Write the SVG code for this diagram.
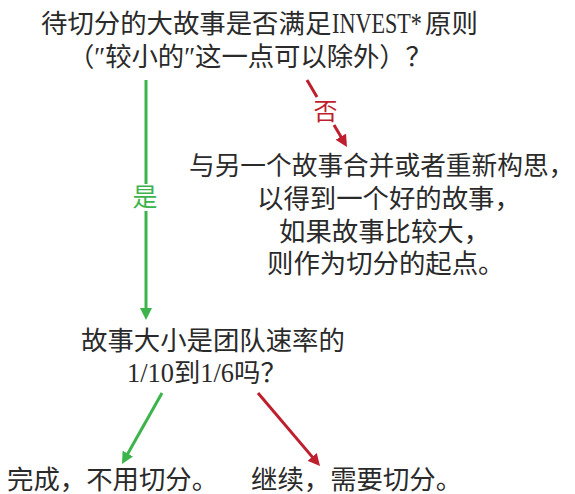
<svg xmlns="http://www.w3.org/2000/svg" width="575" height="494" viewBox="0 0 575 494">
<style>
.t{font-family:"Liberation Serif","Noto Sans CJK SC",serif;font-size:26.4px;fill:#2a2a2a}
.g{stroke:#3cb44b;stroke-width:3;fill:none}
.r{stroke:#be1e2d;stroke-width:3;fill:none}
.lg{font-family:"Noto Sans CJK SC",sans-serif;font-size:25px;fill:#3cb44b;text-anchor:middle}
.lr{font-family:"Noto Sans CJK SC",sans-serif;font-size:24px;fill:#be1e2d;text-anchor:middle}
</style>
<defs>
<marker id="ag" viewBox="0 0 12 12" refX="4" refY="6" markerWidth="12" markerHeight="12" markerUnits="userSpaceOnUse" orient="auto"><path d="M0,0 L12,6 L0,12 z" fill="#3cb44b"/></marker>
<marker id="ar" viewBox="0 0 12 12" refX="4" refY="6" markerWidth="12" markerHeight="12" markerUnits="userSpaceOnUse" orient="auto"><path d="M0,0 L12,6 L0,12 z" fill="#be1e2d"/></marker>
</defs>
<g id="q1">
<text class="t" x="41" y="33">待切分的大故事是否满足</text>
<text class="t" transform="translate(332,33) scale(0.84,1.08)">INVEST*</text>
<text class="t" x="425" y="33">原则</text>
<text class="t" x="68" y="66" textLength="364">（″较小的″这一点可以除外）？</text>
</g>
<g id="merge">
<text class="t" x="189" y="175" style="font-size:25.7px">与另一个故事合并或者重新构思，</text>
<text class="t" x="257" y="208">以得到一个好的故事，</text>
<text class="t" x="279" y="241">如果故事比较大，</text>
<text class="t" x="267" y="273">则作为切分的起点。</text>
</g>
<g id="q2">
<text class="t" x="81" y="350">故事大小是团队速率的</text>
<text class="t" x="127" y="382">1/10到1/6吗？</text>
</g>
<g id="done"><text class="t" x="7" y="489">完成，不用切分。</text></g>
<g id="split"><text class="t" x="251" y="489">继续，需要切分。</text></g>
<g id="connectors">
<line class="g" x1="146" y1="80" x2="146" y2="184"/>
<line class="g" x1="146" y1="211" x2="146" y2="312" marker-end="url(#ag)"/>
<text class="lg" x="145" y="206">是</text>
<line class="r" x1="307" y1="80" x2="317" y2="97"/>
<line class="r" x1="334" y1="125" x2="342.9" y2="140.1" marker-end="url(#ar)"/>
<text class="lr" x="325.5" y="120">否</text>
<line class="g" x1="162" y1="393" x2="125.9" y2="457" marker-end="url(#ag)"/>
<line class="r" x1="258" y1="393" x2="314.8" y2="459.9" marker-end="url(#ar)"/>
</g>
</svg>
